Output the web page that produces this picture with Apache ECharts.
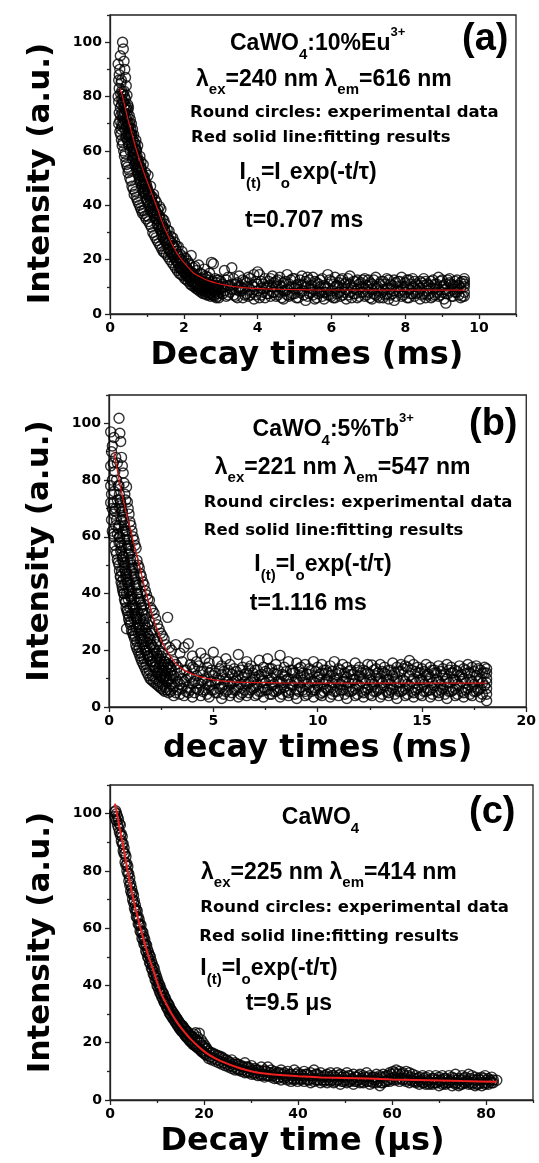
<!DOCTYPE html>
<html><head><meta charset="utf-8">
<script src="https://cdn.jsdelivr.net/npm/echarts@6/dist/echarts.min.js"></script>
<style>html,body{margin:0;padding:0;background:#fff}#chart{width:539px;height:1163px}</style>
</head><body><div id="chart"></div>
<script>
// ---------- tick values ----------
const yMajorTicks = [0, 20, 40, 60, 80, 100];
const yMinorTicks = [10, 30, 50, 70, 90, 110];
const xMajorTicksA = [0, 2, 4, 6, 8, 10];
const xMinorTicksA = [1, 3, 5, 7, 9, 11];
const xMajorTicksB = [0, 5, 10, 15, 20];
const xMinorTicksB = [2.5, 7.5, 12.5, 17.5];
const xMajorTicksC = [0, 20, 40, 60, 80];
const xMinorTicksC = [10, 30, 50, 70, 90];

// ---------- panel (a): CaWO4:10%Eu3+  rows = [time(ms), readings...] ----------
const decayRowsA = [
[0.22,80,92],[0.25,88,74,83],[0.28,76,95],[0.30,85,68],[0.32,70,82,79],[0.34,100,78],[0.36,97.5,73],[0.38,93,82,76],[0.40,90,68],[0.42,87,79],[0.44,84,66,72],[0.46,80.5,71],[0.48,77,75],[0.50,76,63,69],[0.52,73,67],[0.55,71.5,60,66],[0.58,66,70],[0.61,68,57,62],[0.64,65.9,60],[0.67,63,55,59],[0.70,60.5,64],[0.72,60.3,53,57],[0.75,57,62],[0.78,54.2,51,56],[0.81,58,49],[0.84,52,56,54],[0.87,50.5,47],[0.90,55,45,51],[0.93,50.5,48],[0.96,47,52,46],[1.00,46.8,42],[1.03,51,44,45],[1.06,43,40],[1.10,47,38,42],[1.14,43.2,41],[1.18,44,37,40],[1.22,38,42],[1.26,41,35,37],[1.30,38.3,33],[1.34,39.5,34,36],[1.38,38.5,31],[1.42,35,30,32],[1.46,34.5,28],[1.50,33,27,30],[1.55,31,26],[1.60,30.5,24,27],[1.65,28.5,23],[1.70,28,22,25],[1.75,26.5,21],[1.80,25,19.5,23],[1.85,24.8,18.5],[1.90,22,17.5,20],[1.95,23,17],[2.00,21,15.5,18],[2.05,20.5,15],[2.10,19.5,14.5,16.5],[2.15,18.5,13.5],[2.20,21.5,13,15],[2.25,17,12],[2.30,17.5,11.5,14],[2.35,16,11],[2.40,18,10.5,13],[2.45,15,10],[2.50,14.5,9.5,12],[2.55,16.5,9],[2.60,14,10,11.5],[2.65,13.5,8.5],[2.70,15,9,11],[2.75,19,8],[2.80,18.5,9.5,10.5],[2.85,13,8],[2.90,12.5,9,10.5],
[3.0,12,8,10],[3.1,16,10,8.5],[3.2,7,13.5,10.5],[3.3,9,17,11],[3.4,6.5,11,9],[3.5,14,8.5,10],[3.6,6,12.5,9.5],[3.7,10,7.5,11.5],[3.8,13,9,7],[3.9,5.5,14.5,10],[4.0,11,15.5,8.5],[4.1,7,9.5,12],[4.2,13,6,9.5],[4.3,10.5,12,7.5],[4.4,8,14,10],[4.5,6.5,10,12],[4.6,13.5,8,10.5],[4.7,11.5,5.5,8.5],[4.8,14.5,9,7],[4.9,7,12.5,10],[5.0,9.5,13,7.5],[5.1,6,11,9],[5.2,8.5,14,10.5],[5.3,5,10,12],[5.4,12.5,7.5,9.5],[5.5,13.5,9,7],[5.6,6,11.5,8.5],[5.7,8,12.5,10],[5.8,5.5,10.5,8],[5.9,14.5,7,9.5],[6.0,12,8.5,6.5],[6.1,13.5,6,10],[6.2,10,11.5,8],[6.3,7,13,9.5],[6.4,9,5.5,11.5],[6.5,11,14,8],[6.6,7.5,9.5,12],[6.7,12.5,6,9],[6.8,10,8,11.5],[6.9,13,6.5,9.5],[7.0,10.5,12.5,8],[7.1,5.5,9,11],[7.2,13.5,7,9.5],[7.3,11,8.5,6],[7.4,12,6,9],[7.5,9.5,13,7.5],[7.6,7,11,9],[7.7,5,12.5,8.5],[7.8,8.5,10,12],[7.9,13.5,6.5,9],[8.0,11.5,8,10],[8.1,12.5,6,9],[8.2,10,13,7.5],[8.3,7.5,9,11],[8.4,12,5.5,9.5],[8.5,10.5,13,7.5],[8.6,7,8.5,11],[8.7,12,6,9.5],[8.8,11,9.5,7],[8.9,13.5,6.5,9],[9.0,10,12.5,8],[9.1,7.5,9,4,11],[9.2,11.5,13,8.5],[9.3,6.5,10.5,9],[9.4,8,12.5,10],[9.5,6,9.5,11.5],[9.6,11,13,10,8,6.5,12]
];
const scan2A = [
[0.235,86,78,70],[0.265,90,71,67],[0.29,81,73,66],[0.31,77,86,64],[0.33,74,69,62],[0.35,81,72,63],[0.37,78,70,60],[0.39,74,80,58],[0.41,71,77,59],[0.43,75,65,56],[0.45,69,76,55],[0.47,73,64,54],[0.49,70,66,52],[0.51,68,62,53],[0.535,65,70,50],[0.565,63,68,49],[0.595,61,66,47],[0.625,64,58,46],[0.655,59,61,44],[0.685,57,62,45],[0.71,56,60,43],[0.735,54,58,42],[0.765,55,52,41],[0.795,53,50,40],[0.825,51,54,39],[0.855,49,53,38],[0.885,48,51,37],[0.915,46,49,38],[0.945,45,49,36],[0.98,44,48,35],[1.015,42,46,36],[1.045,41,45,34],[1.08,40,44,33],[1.12,39,43,32],[1.16,38,40,30],[1.2,36,40,29],[1.24,35,38,28],[1.28,33,37,27],[1.32,32,36,26],[1.36,31,35,25],[1.4,29,33,24],[1.44,28,32,23],[1.48,27,31,22.5],[1.525,26,29,22],[1.575,24,28,21],[1.625,23,27,20],[1.675,22,26,19],[1.725,21,25,18],[1.775,20,24,17],[1.825,19,22,16],[1.875,17,21,15],[1.925,16.5,20,14.5],[1.975,16,19,14],[2.025,15,18,13],[2.075,14,17,12.5],[2.125,13.5,16,12],[2.175,12.5,15.5,11],[2.225,12,15,10.5],[2.275,11,14,10],[2.325,10.5,13.5,9.5],[2.375,10,13,9],[2.425,9.5,12.5,8.5],[2.475,9,12,8],[2.525,8.5,11.5,7.5],[2.575,10,13,7.5],[2.625,8,11,7],[2.675,9.5,12.5,7],[2.725,7.5,10.5,6.5],[2.775,9,12,7],[2.825,7,10,6.5],[2.875,8.5,11.5,6],[2.925,7.5,10,6.5],[2.95,9,12.5,6],
[3.05,11,7.5],[3.15,12.5,6.5],[3.25,10.5,8],[3.35,13,7],[3.45,11.5,6],[3.55,10,8.5],[3.65,12,7],[3.75,13.5,6.5],[3.85,10.5,8],[3.95,12,7],[4.05,14.5,6],[4.15,11,8],[4.25,10,7.5],[4.35,13,6.5],[4.45,11.5,8],[4.55,12.5,7],[4.65,10,6],[4.75,12,8.5],[4.85,11,6.5],[4.95,13,7.5],[5.05,10.5,6],[5.15,12.5,8],[5.25,11,7],[5.35,13.5,6.5],[5.45,10.5,8],[5.55,12,5.5],[5.65,11,7.5],[5.75,13,6.5],[5.85,10,8],[5.95,12.5,7],[6.05,11,6],[6.15,10.5,7.5],[6.25,12.5,6.5],[6.35,11,8],[6.45,13,7],[6.55,10,6],[6.65,12,7.5],[6.75,11,6.5],[6.85,12.5,8],[6.95,10.5,7],[7.05,11.5,6],[7.15,12.5,7.5],[7.25,10,6.5],[7.35,12,8],[7.45,11,7],[7.55,12.5,5.5],[7.65,10.5,7.5],[7.75,11.5,6.5],[7.85,12,8],[7.95,10,7],[8.05,12.5,6],[8.15,11,7.5],[8.25,12,6.5],[8.35,10.5,8],[8.45,11.5,7],[8.55,12,6],[8.65,10.5,7.5],[8.75,12.5,6.5],[8.85,11,8],[8.95,12,7],[9.05,10.5,5.5],[9.15,12.5,7.5],[9.25,11,6.5],[9.35,12,8],[9.45,10.5,7],[9.55,12,6.5]
];
const fitA = [[0.27,83],[0.34,80],[0.4,76.5],[0.48,72],[0.56,68],[0.63,64.5],[0.7,61],[0.77,58],[0.83,55.5],[0.92,52],[1.0,49],[1.1,45.5],[1.2,41.8],[1.3,38.2],[1.38,35],[1.46,32.2],[1.55,29.5],[1.65,26.5],[1.74,24.2],[1.82,22.3],[1.91,20.5],[2.0,19],[2.13,17],[2.27,15],[2.4,14],[2.55,12.9],[2.7,12.1],[2.9,11.3],[3.1,10.7],[3.3,10.2],[3.55,9.8],[3.8,9.5],[4.2,9.25],[4.6,9.1],[5.5,8.9],[7,8.8],[9.63,8.8]];

// ---------- panel (b): CaWO4:5%Tb3+ ----------
const decayRowsB = [
[0.08,97,85,78,72],[0.16,92,80,70,62],[0.24,95,76,68,60],[0.32,88,70,64,55],[0.40,86,73,61,52],[0.48,101.8,78,64,58,50],[0.52,96.5,70,60],[0.56,93.6,72,55,46],[0.60,88,66,57,48],[0.64,85,69,52,42],[0.68,82.5,62,53,45],[0.72,79,65,49,40],[0.76,75,59,51,43],[0.80,73,62,46,37],[0.84,77.6,56,47,40,27.6],[0.88,72.3,60,44,34],[0.92,70,54,45,38],[0.96,68,57,41,32],[1.00,65.3,51,43,35],[1.05,64,55,39,30],[1.10,62,48,40,33],[1.15,60,52,36,27],[1.20,58.8,46,38,31],[1.25,57,49,34,25],[1.30,56,44,35,28],[1.34,51.7,40,31,23],[1.40,50,43,33,26],[1.45,49,38,29,21],[1.50,47,40,31,24],[1.55,46,36,27,19],[1.62,44.1,34,29,22],[1.68,43,36,25,17],[1.74,41,31,27,20],[1.80,39.5,33,23,15],[1.86,38,29,24,18],[1.94,37.6,30,21,13],[2.00,35,26,22,16],[2.08,34,27,18,11],[2.16,33,24,19,14],[2.24,31,22,16,10],[2.32,29,23,17,12],[2.40,27.5,20,14,9],[2.48,26,18,15,11],[2.56,25,19,13,8],[2.64,24,16,13,10],[2.72,22,17,11,7],[2.81,31.6,15,12,9],[2.90,21,14,10,6],[3.00,20,13,11,8],
[3.2,22,15,10,5],[3.4,19,12,8,4.5],[3.6,21,13,9,4],[3.8,22.3,11,7,5],[4.0,18,14,8.5,3.5],[4.2,16,11,6.5],[4.4,19,12.5,8,4],[4.6,17,10,6],[4.8,15.5,12,7.5,3.5],[5.0,19.3,11,6],[5.2,16,9.5,5],[5.4,14.5,11.5,7,3],[5.6,17,10,5.5],[5.8,15,12,8,4],[6.0,13.5,9,6],[6.2,18.5,11,7,3.5],[6.4,14,10.5,5],[6.6,16,12,8,4],[6.8,14.5,9,6],[7.0,13,10.5,7,4],[7.2,16.5,11,5.5],[7.4,14,9.5,7,3.5],[7.6,17,12,6],[7.8,13.5,10,7.5,4.5],[8.0,15,11.5,5.5],[8.2,18.2,9,6.5,3.5],[8.4,14,11,7],[8.6,16,10,5,4],[8.8,13,12,7.5],[9.0,15.5,9.5,6,3],[9.2,14,11,7],[9.4,15,10,5.5,4],[9.6,13.5,11.5,7],[9.8,16,9,6,3.5],[10.0,14,10.5,7.5],[10.2,15,12,5,4],[10.4,13,9.5,6.5],[10.6,14.5,11,7,3.5],[10.8,16,10,5.5],[11.0,13.5,12,8,4],[11.2,15,9,6],[11.4,14,10.5,7,3],[11.6,13,11.5,5.5],[11.8,15.5,9.5,6.5,4],[12.0,14,11,7.5],[12.2,13,10,5,3.5],[12.4,15,12,6.5],[12.6,14.8,9,7,4],[12.8,13.5,11,5.5],[13.0,15,10,6.5,3.5],[13.2,14,12,7.5],[13.4,13,9.5,5,4],[13.6,15.5,11,6.5],[13.8,14,10,7,3],[14.0,15,12.5,5.5],[14.2,14.5,9,6.5,4],[14.4,16.4,11,7.5],[14.6,15,10,5,3.5],[14.8,14,12,6.5],[15.0,13.5,9.5,7,4],[15.2,15,11,5.5],[15.4,14,10.5,6,3.5],[15.6,13,12,7.5],[15.8,14.5,9,5,4],[16.0,13.5,11,6.5],[16.2,15,10,7,3],[16.4,14,12,5.5],[16.6,13,9.5,6.5,4],[16.8,14.5,11,7.5],[17.0,13.5,10,5,3.5],[17.2,15,12,6.5],[17.4,14,9,7,4],[17.6,14.5,11,5.5],[17.8,13,10,6.5,3.5],[18.0,14,12,7.5],[18.1,13.5,12,10,8.5,6.5,4.5,2.2]
];
const scan2B = [
[0.12,90,75,66],[0.20,86,72,61],[0.28,83,69,57],[0.36,80,66,54],[0.44,78,63,51],[0.50,75,60,48],[0.54,73,58,46],[0.58,71,56,44],[0.62,69,54,43],[0.66,67,53,41],[0.70,66,51,40],[0.74,64,50,38],[0.78,62,48,37],[0.82,61,47,35],[0.86,59,45,34],[0.90,57,44,33],[0.94,56,42,31],[0.98,54,41,30],[1.03,52,39,29],[1.08,50,38,27],[1.13,49,36,26],[1.18,47,35,25],[1.23,45,33,24],[1.28,43,32,22],[1.32,42,31,21],[1.37,40,29,20],[1.43,38,28,19],[1.48,37,27,18],[1.53,35,25,17],[1.58,33,24,16],[1.65,31,23,15],[1.71,29,21,14],[1.77,28,20,13],[1.83,26,19,12],[1.90,25,18,11],[1.97,24,17,10],[2.04,22,16,9.5],[2.12,21,15,9],[2.20,20,14,8.5],[2.28,19,13,8],[2.36,18,12.5,7.5],[2.44,17,12,7],[2.52,16,11,6.5],[2.60,15,10.5,6],[2.68,16,11,5.5],[2.76,14,10,6],[2.85,15,9.5,5],[2.95,14,10,5.5],[3.1,16,11,7,4],
[3.3,14,9,6],[3.5,16,10,6.5],[3.7,13,9.5,5.5],[3.9,15,10.5,6],[4.1,13.5,9,5],[4.3,14.5,8.5,6],[4.5,12.5,9.5,5.5],[4.7,14,8,4.5],[4.9,13,9,6],[5.1,12,8.5,5],[5.3,13.5,9.5,6.5],[5.5,12.5,8,4.5],[5.7,13,9,6],[5.9,11.5,8.5,5],[6.1,12.5,9.5,6],[6.3,13,8,4.5],[6.5,11.5,9,6],[6.7,13.5,8.5,5],[6.9,12,9.5,6.5],[7.1,13,8,4.5],[7.3,11.5,9,5.5],[7.5,12.5,8.5,6],[7.7,13.5,9.5,4.5],[7.9,12,8,5.5],[8.1,13,9,6],[8.3,11.5,8.5,4.5],[8.5,12.5,9.5,5.5],[8.7,13,8,6],[8.9,12,9,4.5],[9.1,13.5,8.5,5.5],[9.3,12,9.5,6],[9.5,11.5,8,4.5],[9.7,13,9,5.5],[9.9,12.5,8.5,6],[10.1,11.5,9.5,4.5],[10.3,13,8,5.5],[10.5,12,9,6],[10.7,12.5,8.5,4.5],[10.9,11.5,9.5,5.5],[11.1,13,8,6],[11.3,12,9,4.5],[11.5,12.5,8.5,5.5],[11.7,11.5,9.5,6],[11.9,13,8,4.5],[12.1,12,9,5.5],[12.3,12.5,8.5,6],[12.5,11.5,9.5,4.5],[12.7,13,8,5.5],[12.9,12,9,6],[13.1,12.5,8.5,4.5],[13.3,11.5,9.5,5.5],[13.5,13,8,6],[13.7,12,9,4.5],[13.9,12.5,8.5,5.5],[14.1,13.5,9.5,6],[14.3,14,8,4.5],[14.5,13,9,5.5],[14.7,12.5,8.5,6],[14.9,12,9.5,4.5],[15.1,12.5,8,5.5],[15.3,11.5,9,6],[15.5,13,8.5,4.5],[15.7,12,9.5,5.5],[15.9,12.5,8,6],[16.1,11.5,9,4.5],[16.3,13,8.5,5.5],[16.5,12,9.5,6],[16.7,12.5,8,4.5],[16.9,11.5,9,5.5],[17.1,13,8.5,6],[17.3,12,9.5,4.5],[17.5,12.5,8,5.5],[17.7,13.5,9,6],[17.9,12,8.5,4.5]
];
const fitB = [[0.23,90],[0.35,85.5],[0.51,79],[0.67,73.5],[0.83,68.2],[1.0,63.5],[1.15,58.8],[1.3,54.3],[1.47,49.4],[1.63,44.6],[1.79,40],[1.95,35.8],[2.1,31.7],[2.3,27.5],[2.58,22.3],[2.9,18.4],[3.22,15.3],[3.6,13],[4.17,11.1],[4.8,9.9],[5.45,9.1],[6.5,8.7],[8.17,8.5],[12,8.4],[18.1,8.4]];

// ---------- panel (c): CaWO4 (time in µs) ----------
const decayRowsC = [
[1.0,100.6,99],[1.4,100,97.5],[1.8,98,95],[2.2,96,92.5],[2.6,92,89.5],[3.0,88,86],[3.4,85,82],[3.8,81.5,79],[4.2,77.5,75],[4.6,74,72],[5.0,71.5,69],[5.4,68,66],[5.8,66,63.5],[6.2,63,61],[6.6,61,58.5],[7.0,58.5,56],[7.4,56,54],[7.8,54,51.5],[8.2,51.5,49.5],[8.6,50,47.5],[9.0,47.5,45.5],[9.4,46,43.5],[9.8,43.5,41.5],[10.2,41.5,39.5],[10.6,40,37.5],[11.0,38,36],[11.4,37,34.5],[11.8,35.5,33.5],[12.2,34,32],[12.6,33,30.5],[13.0,31.5,29.5],[13.4,30.5,28.5],[13.8,29.5,27.5],[14.2,28.5,26.5],[14.6,27.5,25.5],[15.0,26.5,24.5],[15.4,26,24],[15.8,25,23],[16.2,24,22],[16.6,23.5,21.5],[17.0,22.5,20.5],[17.4,22,20],[17.8,23,19.5],[18.2,23.5,19],[18.6,22,18.5],[19.0,23.3,18],[19.4,21,17],[19.8,20,16.5],[20.2,19,16],[20.6,18,15.5],
[21.0,17,14.5],[21.7,16.5,14],[22.4,16,13.5],[23.1,15.5,13],[23.8,15,12.5],[24.5,14,12],[25.2,13.5,11.5],[25.9,14,11],[26.6,13,10.5],[27.3,12.5,10.5],[28.0,12,10],[28.7,13,9.5],[29.4,11.5,9.5],[30.1,12,9],[30.8,11,9],[31.5,10.5,8.5],[32.2,11.5,8.5],[32.9,10.5,8],[33.6,11.5,8.5],[34.3,10.5,8],[35.0,10,7.5],[35.7,9.5,7.5],[36.4,10.5,7],[37.1,9.5,7.5],[37.8,10,7],[38.5,9,6.5],[39.2,10.5,7],[39.9,9.5,6.5],[40.6,9,7],[41.3,10,6.5],[42.0,9,7],[42.7,9.5,6],[43.4,10.5,6.5],[44.1,9,7],[44.8,9.5,6],[45.5,8.5,6.5],[46.2,9,6],[46.9,9.5,6.5],[47.6,8.5,6],[48.3,9.5,7],[49.0,9,5.5],[49.7,8.5,6.5],[50.4,9.5,6],[51.1,8.5,6.5],[51.8,9,5.5],[52.5,8,6.5],[53.2,9,6],[53.9,8.5,6],[54.6,9.5,6.5],[55.3,8.5,5.5],[56.0,8,6],[56.7,9,6],[57.4,8.5,5],[58.1,9,6],[58.8,8.5,6.5],[59.5,9.5,6.5],[60.2,10,7],[60.9,10.5,7],[61.6,10,6.5],[62.3,9.5,7],[63.0,10,6.5],[63.7,9.5,6],[64.4,9,6.5],[65.1,8.5,6],[65.8,8,5.5],[66.5,8.5,6],[67.2,8,5.5],[67.9,8.5,5.5],[68.6,7.5,5.5],[69.3,8.5,6],[70.0,8,5],[70.7,8.5,5.5],[71.4,7.5,5.5],[72.1,8.5,6],[72.8,8,5],[73.5,9,5.5],[74.2,7.5,5],[74.9,8.5,5.5],[75.6,8,6],[76.3,9,5.5],[77.0,8.5,5.5],[77.7,8,5],[78.4,7.5,5.5],[79.1,8,5],[79.8,8.5,5.5],[80.5,7.5,5.5],[81.2,8,6],[82.3,6.9]
];
const scan2C = [
[1.2,101,98],[1.6,99,96],[2.0,96.5,93.5],[2.4,93,90.5],[2.8,89.5,87],[3.2,86,83],[3.6,82.5,80],[4.0,79,76.5],[4.4,75.5,73],[4.8,72.5,70],[5.2,69.5,67],[5.6,66.5,64],[6.0,64,61.5],[6.4,61.5,59],[6.8,59,56.5],[7.2,57,54.5],[7.6,54.5,52],[8.0,52.5,50],[8.4,50.5,48],[8.8,48.5,46],[9.2,46.5,44],[9.6,44.5,42],[10.0,42.5,40],[10.4,40.5,38.5],[10.8,39,37],[11.2,37.5,35.5],[11.6,36,34],[12.0,34.5,32.5],[12.4,33.5,31.5],[12.8,32,30],[13.2,31,29],[13.6,30,28],[14.0,29,27],[14.4,28,26],[14.8,27,25],[15.2,26,24],[15.6,25.5,23.5],[16.0,24.5,22.5],[16.4,24,22],[16.8,23,21],[17.2,22.5,20.5],[17.6,22,19.5],[18.0,21.5,19],[18.4,21,18.5],[18.8,20.5,18],[19.2,20,17.5],[19.6,19,17],[20.0,18.5,16.5],[20.4,18,16],
[21.35,16.5,15],[22.05,16,14.5],[22.75,15.5,14],[23.45,15,13.5],[24.15,14.5,13],[24.85,14,12.5],[25.55,13,12],[26.25,12.5,11.5],[26.95,12.5,11],[27.65,12,10.5],[28.35,11.5,10.5],[29.05,11.5,10],[29.75,11,10],[30.45,10.5,9.5],[31.15,10.5,9.5],[31.85,10,9],[32.55,10,9],[33.25,10,8.5],[33.95,9.5,8.5],[34.65,9.5,8.5],[35.35,9,8],[36.05,9.5,8],[36.75,9,8],[37.45,8.5,8],[38.15,9,7.5],[38.85,8.5,7.5],[39.55,9,7.5],[40.25,8.5,7.5],[40.95,8.5,7.5],[41.65,9,7.5],[42.35,8.5,7],[43.05,8.5,7.5],[43.75,9,7],[44.45,8.5,7],[45.15,8,7],[45.85,8.5,7],[46.55,8,7],[47.25,8.5,7],[47.95,8,6.5],[48.65,8.5,7],[49.35,8,6.5],[50.05,8,7],[50.75,8.5,6.5],[51.45,7.5,7],[52.15,8,6.5],[52.85,8.5,7],[53.55,7.5,6.5],[54.25,8,7],[54.95,8,6.5],[55.65,7.5,6.5],[56.35,8,7],[57.05,7.5,6.5],[57.75,8,6],[58.45,8,6.5],[59.15,8.5,7],[59.85,9,7.5],[60.55,9.5,8],[61.25,9,7.5],[61.95,9,7.5],[62.65,8.5,7.5],[63.35,8.5,7],[64.05,8,7],[64.75,7.5,6.5],[65.45,7.5,6.5],[66.15,7,6.5],[66.85,7.5,6],[67.55,7,6.5],[68.25,7,6],[68.95,7.5,6],[69.65,7,6],[70.35,7,6.5],[71.05,7.5,6],[71.75,7,6],[72.45,7,6.5],[73.15,7.5,6],[73.85,7,6],[74.55,7,5.5],[75.25,7.5,6],[75.95,7,6.5],[76.65,7.5,6],[77.35,7,6],[78.05,7,5.5],[78.75,7,6],[79.45,7.5,6],[80.15,7,6],[80.85,7,6.5],[81.55,7,6]
];
const fitC = [[1.06,103.5],[1.6,99],[2.13,94.3],[2.7,89.5],[3.2,85],[3.7,80.5],[4.26,75.7],[4.8,71.5],[5.32,67.5],[5.9,63.8],[6.4,60.5],[7.1,56.3],[7.8,52.4],[8.5,48.7],[9.2,45.4],[9.9,41.8],[10.6,38.4],[11.3,35.7],[12.1,33.2],[13.1,30.1],[14.2,27.3],[15.6,24.2],[17,21.5],[18.8,18.7],[20.6,16.3],[22.7,14.3],[24.8,12.8],[27.5,11.2],[30.5,9.9],[33.3,9.2],[36.2,8.7],[40,8.3],[45,7.9],[50,7.7],[55,7.5],[60,7.2],[65,7],[70,6.8],[75,6.6],[82.3,6.4]];

// ---------- build ----------
const DJ = '"DejaVu Sans", sans-serif';
const LB = '"Liberation Sans", Arial, sans-serif';
function toPoints(rows){const p=[];rows.forEach(r=>{for(let k=1;k<r.length;k++)p.push([r[0],r[k]]);});return p;}

const panels = [
  {grid:{left:110,top:15,width:406,height:299}, xMax:11, xStep:1, xMajor:xMajorTicksA, xMinor:xMinorTicksA,
   xName:'Decay times (ms)', xPad:[0,12,0,0], yPad:[0,18,0,0], rows:decayRowsA.concat(scan2A), fit:fitA, fitColor:'#d81414', fitWidth:1.2},
  {grid:{left:109,top:395,width:419,height:312}, xMax:20, xStep:2.5, xMajor:xMajorTicksB, xMinor:xMinorTicksB,
   xName:'decay times (ms)', xPad:[0,0,0,0], yPad:[0,0,0,0], rows:decayRowsB.concat(scan2B), fit:fitB, fitColor:'#d81414', fitWidth:1.2},
  {grid:{left:110,top:785,width:423,height:315}, xMax:90, xStep:10, xMajor:xMajorTicksC, xMinor:xMinorTicksC,
   xName:'Decay time (\u03bcs)', xPad:[0,38,0,0], yPad:[0,0,0,0], rows:decayRowsC.concat(scan2C), fit:fitC, fitColor:'#f02020', fitWidth:2}
];

const axisColor = '#222';
const grids=[], xAxes=[], yAxes=[], series=[];
panels.forEach((p,i)=>{
  grids.push(Object.assign({show:true, borderColor:axisColor, borderWidth:1.3, containLabel:false}, p.grid));
  const tickLine={color:axisColor,width:1.3};
  xAxes.push({type:'value', gridIndex:i, position:'bottom', min:0, max:p.xMax, interval:p.xStep,
    axisLine:{show:true, onZero:false, lineStyle:tickLine},
    axisTick:{show:true, inside:false, length:5, customValues:p.xMajor, lineStyle:tickLine},
    axisLabel:{customValues:p.xMajor, fontFamily:DJ, fontWeight:'bold', fontSize:14, color:'#000', margin:7},
    splitLine:{show:false},
    name:p.xName, nameLocation:'middle', nameGap:26,
    nameTextStyle:{fontFamily:DJ, fontWeight:'bold', fontSize:32, color:'#000', padding:p.xPad}});
  xAxes.push({type:'value', gridIndex:i, position:'bottom', offset:0, min:0, max:p.xMax, interval:p.xStep,
    axisLine:{show:false}, axisTick:{show:true, inside:false, length:3, customValues:p.xMinor, lineStyle:tickLine},
    axisLabel:{show:false}, splitLine:{show:false}});
  yAxes.push({type:'value', gridIndex:i, position:'left', min:0, max:110, interval:10,
    axisLine:{show:true, onZero:false, lineStyle:tickLine},
    axisTick:{show:true, inside:false, length:5, customValues:yMajorTicks, lineStyle:tickLine},
    axisLabel:{customValues:yMajorTicks, fontFamily:DJ, fontWeight:'bold', fontSize:14, color:'#000', margin:8},
    splitLine:{show:false},
    name:'Intensity (a.u.)', nameLocation:'middle', nameGap:54,
    nameTextStyle:{fontFamily:DJ, fontWeight:'bold', fontSize:31, color:'#000', padding:p.yPad}});
  yAxes.push({type:'value', gridIndex:i, position:'left', offset:0, min:0, max:110, interval:10,
    axisLine:{show:false}, axisTick:{show:true, inside:false, length:3, customValues:yMinorTicks, lineStyle:tickLine},
    axisLabel:{show:false}, splitLine:{show:false}});
  series.push({type:'scatter', xAxisIndex:2*i, yAxisIndex:2*i, data:toPoints(p.rows), symbol:'circle', symbolSize:10,
    itemStyle:{color:'rgba(255,255,255,0)', borderColor:'#000', borderWidth:1.4}, emphasis:{disabled:true}, z:2, silent:true, large:false});
  series.push({type:'line', xAxisIndex:2*i, yAxisIndex:2*i, data:p.fit, showSymbol:false, smooth:0.2,
    lineStyle:{color:p.fitColor, width:p.fitWidth}, z:3, silent:true});
});

function richStyles(){
  const base={fontFamily:LB, fontWeight:'bold', color:'#000'};
  return {
    m:Object.assign({fontSize:23, lineHeight:36, verticalAlign:'middle'},base),
    s:Object.assign({fontSize:15, lineHeight:12, verticalAlign:'bottom'},base),
    p:Object.assign({fontSize:13, lineHeight:21, verticalAlign:'top'},base),
    d:{fontFamily:DJ, fontWeight:'bold', color:'#000', fontSize:16.5, lineHeight:36, verticalAlign:'middle'}
  };
}
function note(x,y,text){
  return {type:'text', x:x, y:y, silent:true, z:10,
    style:{text:text, rich:richStyles(), align:'left', verticalAlign:'middle', textAlign:'left', textVerticalAlign:'middle'}};
}
function tag(x,y,text){
  return {type:'text', x:x, y:y, silent:true, z:10,
    style:{text:text, font:'bold 38px '+LB, fill:'#000', align:'left', verticalAlign:'middle', textAlign:'left', textVerticalAlign:'middle'}};
}
const graphics = [
  note(230,44,'{m|CaWO}{s|4}{m|:10%Eu}{p|3+}'),
  note(196,79.5,'{m|\u03bb}{s|ex}{m|=240 nm \u03bb}{s|em}{m|=616 nm}'),
  note(190,113,'{d|Round circles: experimental data}'),
  note(191,138,'{d|Red solid line:fitting results}'),
  note(239.5,173,'{m|I}{s|(t)}{m|=I}{s|o}{m|exp(-t/\u03c4)}'),
  note(245,220.5,'{m|t=0.707 ms}'),
  tag(462,40,'(a)'),
  note(252.6,430,'{m|CaWO}{s|4}{m|:5%Tb}{p|3+}'),
  note(214.8,467.5,'{m|\u03bb}{s|ex}{m|=221 nm \u03bb}{s|em}{m|=547 nm}'),
  note(203.8,503,'{d|Round circles: experimental data}'),
  note(203.8,530.5,'{d|Red solid line:fitting results}'),
  note(254.3,565,'{m|I}{s|(t)}{m|=I}{s|o}{m|exp(-t/\u03c4)}'),
  note(249.8,604,'{m|t=1.116 ms}'),
  tag(469,425,'(b)'),
  note(281.8,818,'{m|CaWO}{s|4}'),
  note(201,872.5,'{m|\u03bb}{s|ex}{m|=225 nm \u03bb}{s|em}{m|=414 nm}'),
  note(200.3,907.5,'{d|Round circles: experimental data}'),
  note(199.3,936.5,'{d|Red solid line:fitting results}'),
  note(200.3,969,'{m|I}{s|(t)}{m|=I}{s|o}{m|exp(-t/\u03c4)}'),
  note(245.7,1004,'{m|t=9.5 \u03bcs}'),
  tag(469,812.5,'(c)')
];

const chart = echarts.init(document.getElementById('chart'), null, {renderer:'canvas'});
chart.setOption({animation:false, backgroundColor:'#fff', grid:grids, xAxis:xAxes, yAxis:yAxes, series:series, graphic:graphics});
</script></body></html>
